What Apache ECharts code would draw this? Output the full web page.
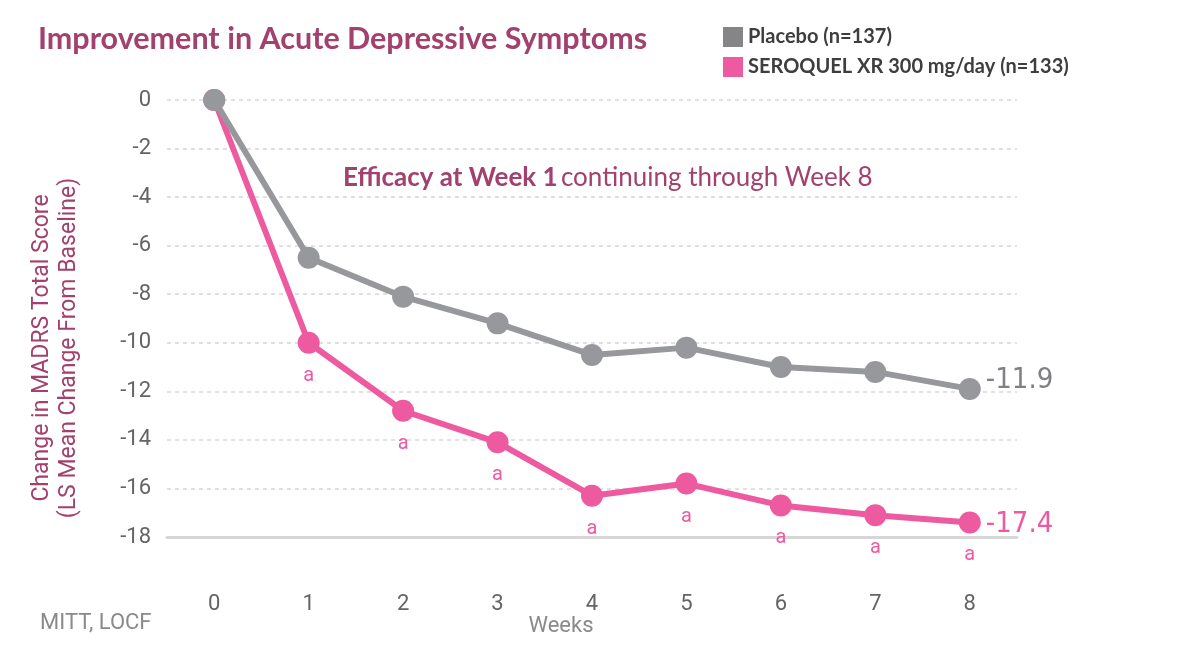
<!DOCTYPE html>
<html>
<head>
<meta charset="utf-8">
<script src="https://cdn.jsdelivr.net/npm/echarts@6/dist/echarts.min.js"></script>
<style>
  html, body { margin: 0; padding: 0; background: #fff; }
  #chart { width: 1180px; height: 660px; }
</style>
</head>
<body>
<div id="chart"></div>
<script>
// data
var weeks = ['0', '1', '2', '3', '4', '5', '6', '7', '8'];
var placebo = [0, -6.5, -8.1, -9.2, -10.5, -10.2, -11.0, -11.2, -11.9];
var seroquel = [0, -10.0, -12.8, -14.1, -16.3, -15.8, -16.7, -17.1, -17.4];
var sigMarks = ['', 'a', 'a', 'a', 'a', 'a', 'a', 'a', 'a'];
var seriesNames = ['Placebo (n=137)', 'SEROQUEL XR 300 mg/day (n=133)'];

var GRAY = '#97989b';
var PINK = '#ee5aa0';
var MAUVE = '#a3416e';
var TICK = '#636466';
var NARROW = '"DejaVu Sans Condensed", Roboto, sans-serif';

var chart = echarts.init(document.getElementById('chart'));

chart.setOption({
  animation: false,
  grid: { left: 167, right: 163, top: 100, bottom: 123 },
  legend: {
    orient: 'vertical',
    left: 718, top: 22,
    itemWidth: 20, itemHeight: 20, itemGap: 10,
    icon: 'rect',
    selectedMode: false,
    data: [
      { name: seriesNames[0], itemStyle: { color: '#858587' } },
      { name: seriesNames[1], itemStyle: { color: PINK } }
    ],
    textStyle: { fontFamily: 'Lato', fontWeight: 'bold', fontSize: 20, color: '#3e3e40' }
  },
  xAxis: {
    type: 'category',
    data: weeks,
    boundaryGap: true,
    axisLine: { onZero: false, lineStyle: { color: '#d6d6d6', width: 3 } },
    axisTick: { alignWithLabel: true, length: 5, lineStyle: { color: '#cfcfcf' } },
    axisLabel: { margin: 56, fontFamily: 'Roboto', fontSize: 22, color: TICK },
    splitLine: { show: false }
  },
  yAxis: {
    type: 'value',
    min: -18, max: 0, interval: 2,
    axisLine: { show: false },
    axisTick: { show: false },
    axisLabel: { margin: 16, fontFamily: 'Roboto', fontSize: 22, color: TICK },
    splitLine: { lineStyle: { color: '#d8d8d8', type: [4, 4], width: 1.5 } }
  },
  series: [
    {
      name: seriesNames[0],
      type: 'line',
      z: 3,
      data: placebo,
      color: GRAY,
      symbol: 'circle', symbolSize: 22,
      lineStyle: { width: 6, color: GRAY },
      itemStyle: { color: GRAY },
      emphasis: { disabled: true },
      endLabel: {
        show: true, distance: 16, offset: [0, -8],
        formatter: function (p) { return p.value.toFixed(1); },
        fontFamily: NARROW, fontSize: 29, color: '#808184'
      }
    },
    {
      name: seriesNames[1],
      type: 'line',
      z: 2,
      data: seroquel,
      color: PINK,
      symbol: 'circle', symbolSize: 22,
      lineStyle: { width: 6, color: PINK },
      itemStyle: { color: PINK },
      emphasis: { disabled: true },
      label: {
        show: true, position: 'bottom', distance: 12,
        formatter: function (p) { return sigMarks[p.dataIndex]; },
        fontFamily: 'Roboto', fontSize: 20, color: PINK
      },
      endLabel: {
        show: true, distance: 16, offset: [0, 2],
        formatter: function (p) { return p.value.toFixed(1); },
        fontFamily: NARROW, fontSize: 29, color: PINK
      }
    }
  ],
  graphic: [
    {
      type: 'text', left: 38, top: 24,
      style: { text: 'Improvement in Acute Depressive Symptoms', font: 'bold 30.5px Lato', fill: MAUVE }
    },
    {
      type: 'text', left: 343, top: 165,
      style: {
        text: '{b|Efficacy at Week 1} {n|continuing through Week 8}',
        rich: {
          b: { font: 'bold 26px Lato', fill: MAUVE },
          n: { font: '26px Lato', fill: MAUVE }
        }
      }
    },
    {
      type: 'text', x: 56, y: 348, rotation: Math.PI / 2,
      style: {
        text: 'Change in MADRS Total Score\n(LS Mean Change From Baseline)',
        font: '23px Roboto', fill: MAUVE, align: 'center', verticalAlign: 'middle', lineHeight: 27
      }
    },
    {
      type: 'text', left: 40, top: 612,
      style: { text: 'MITT, LOCF', font: '22px Roboto', fill: '#8a8a8c' }
    },
    {
      type: 'text', x: 561, y: 626,
      style: { text: 'Weeks', font: '22px Roboto', fill: '#8a8a8c', align: 'center', verticalAlign: 'middle' }
    }
  ]
});
</script>
</body>
</html>
